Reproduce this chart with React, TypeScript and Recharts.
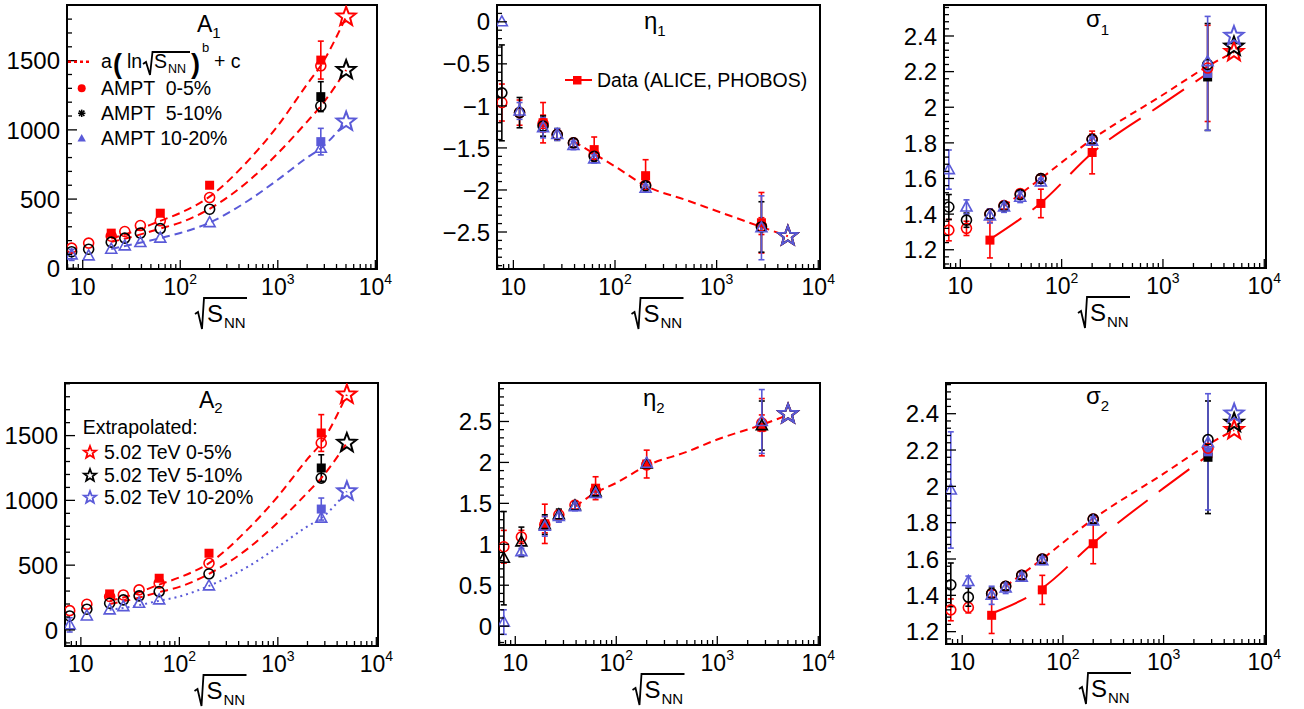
import React from "react";
import { ComposedChart, Scatter, Line, XAxis, YAxis, ErrorBar, ReferenceArea } from "recharts";

const FONT = "'Liberation Sans', Arial, Helvetica, sans-serif";
const RED = "#ff0000";
const BLACK = "#000000";
const BLUE = "#5a5ad8";

// collision energies (GeV)
const amptEnergy = [7.7, 11.5, 19.6, 27, 39, 62.4, 200, 2760];
const dataEnergy = [19.6, 62.4, 200, 2760];
const lhcEnergy = [2760];
const starEnergy = [5020];
const xMajor = [10, 100, 1000, 10000];
const xMinor = [7, 8, 9, 20, 30, 40, 50, 60, 70, 80, 90, 200, 300, 400, 500, 600, 700, 800, 900, 2000, 3000, 4000, 5000, 6000, 7000, 8000, 9000];
const xDomain: [number, number] = [6.9, 10400];

// fit curve sample points
const fitXA = [19.6, 30, 62.4, 100, 200, 500, 1000, 2000, 2760, 5020];
const fitXE = [39, 62.4, 100, 200, 500, 1000, 2760, 5020];
const fitXSa = [27, 62.4, 200, 1000, 2760, 5020];
const fitXSd = [19.6, 62.4, 200, 1000, 2760];

// ---- A1
const a1Ampt05 = [146, 182, 232, 266, 309, 343, 511, 1463];
const a1Ampt510 = [120, 138, 189, 218, 254, 287, 427, 1172];
const a1Ampt1020 = [97, 90, 138, 162, 186, 218, 330, 867];
const a1Ampt1020Err = [40, 0, 0, 0, 0, 0, 0, 0];
const a1Data05 = [254, 398, 600, 1504];
const a1Data05Err = [20, 0, 0, 137];
const a1Data510 = [1240];
const a1Data510Err = [108];
const a1Data1020 = [915];
const a1Data1020Err = [96];
const a1Stars = [1817, 1432, 1059];
const a1Fit05 = [215, 255, 343, 400, 518, 780, 1030, 1330, 1465, 1817];
const a1Fit510 = [190, 222, 287, 330, 430, 630, 830, 1060, 1172, 1432];
const a1Fit1020 = [140, 168, 218, 255, 330, 490, 640, 800, 867, 1059];

// ---- A2
const a2Ampt05 = [149, 198, 258, 270, 309, 361, 515, 1443];
const a2Ampt510 = [108, 160, 206, 232, 263, 296, 433, 1172];
const a2Ampt1020 = [39, 108, 155, 180, 206, 232, 340, 863];
const a2Ampt1020Err = [55, 0, 0, 0, 0, 0, 0, 0];
const a2Data05 = [278, 399, 592, 1520];
const a2Data05Err = [20, 0, 0, 142];
const a2Data510 = [1250];
const a2Data510Err = [102];
const a2Data1020 = [933];
const a2Data1020Err = [85];
const a2Stars = [1816, 1443, 1069];
const a2Fit05 = [225, 260, 350, 405, 515, 780, 1030, 1320, 1443, 1816];
const a2Fit510 = [200, 228, 292, 332, 433, 630, 830, 1060, 1172, 1443];
const a2Fit1020 = [155, 175, 225, 258, 340, 490, 640, 800, 863, 1069];

// ---- eta1
const e1Ampt05 = [-0.96, -1.08, -1.21, -1.34, -1.44, -1.58, -1.94, -2.43];
const e1Ampt05Err = [0.22, 0.15, 0.1, 0.06, 0.05, 0.05, 0.04, 0.1];
const e1Ampt510 = [-0.845, -1.08, -1.24, -1.34, -1.44, -1.6, -1.95, -2.44];
const e1Ampt510Err = [0.57, 0.18, 0.12, 0.07, 0.05, 0.05, 0.04, 0.3];
const e1Ampt1020 = [0.0, -1.06, -1.26, -1.34, -1.47, -1.63, -1.98, -2.45];
const e1Ampt1020Err = [0, 0.1, 0.12, 0.07, 0.05, 0.05, 0.04, 0.38];
const e1Data = [-1.2, -1.52, -1.83, -2.39];
const e1DataErr = [0.24, 0.15, 0.19, 0.36];
const e1Stars = [-2.55, -2.55, -2.55];
const e1Fit = [-1.42, -1.57, -1.72, -1.95, -2.12, -2.25, -2.44, -2.55];

// ---- eta2
const e2Ampt05 = [0.97, 1.09, 1.24, 1.36, 1.48, 1.656, 1.97, 2.48];
const e2Ampt05Err = [0.2, 0.08, 0.1, 0.06, 0.05, 0.05, 0.05, 0.1];
const e2Ampt510 = [0.83, 1.03, 1.24, 1.36, 1.47, 1.64, 1.98, 2.45];
const e2Ampt510Err = [0.57, 0.18, 0.12, 0.07, 0.05, 0.05, 0.04, 0.3];
const e2Ampt1020 = [0.05, 0.91, 1.22, 1.34, 1.46, 1.62, 1.99, 2.5];
const e2Ampt1020Err = [0.15, 0.04, 0.12, 0.07, 0.05, 0.05, 0.04, 0.39];
const e2Data = [1.25, 1.685, 1.98, 2.43];
const e2DataErr = [0.24, 0.14, 0.17, 0.35];
const e2Stars = [2.59, 2.59, 2.59];
const e2Fit = [1.46, 1.63, 1.75, 1.96, 2.13, 2.28, 2.46, 2.58];

// ---- sigma1
const s1Ampt05 = [1.31, 1.32, 1.4, 1.448, 1.515, 1.6, 1.82, 2.22];
const s1Ampt05Err = [0.06, 0.04, 0.03, 0.02, 0.02, 0.02, 0.03, 0];
const s1Ampt510 = [1.44, 1.366, 1.4, 1.445, 1.51, 1.6, 1.82, 2.24];
const s1Ampt510Err = [0.07, 0.04, 0.03, 0.02, 0.02, 0.02, 0.02, 0];
const s1Ampt1020 = [1.65, 1.44, 1.39, 1.44, 1.495, 1.58, 1.81, 2.256];
const s1Ampt1020Err = [0.11, 0.04, 0.04, 0.03, 0.03, 0.02, 0.02, 0];
const s1Data05 = [1.254, 1.46, 1.746, 2.19];
const s1Data05Err = [0.1, 0.08, 0.12, 0.27];
const s1Data510 = [2.17];
const s1Data510Err = [0.3];
const s1Data1020 = [2.19];
const s1Data1020Err = [0.32];
const s1Stars = [2.31, 2.34, 2.4];
const s1FitAmpt = [1.445, 1.6, 1.82, 2.07, 2.23, 2.31];
const s1FitData = [1.258, 1.463, 1.743, 2.02, 2.19];

// ---- sigma2
const s2Ampt05 = [1.32, 1.333, 1.408, 1.45, 1.51, 1.6, 1.82, 2.21];
const s2Ampt05Err = [0.06, 0.03, 0.02, 0.02, 0.02, 0.02, 0.02, 0];
const s2Ampt510 = [1.458, 1.39, 1.41, 1.45, 1.51, 1.6, 1.82, 2.257];
const s2Ampt510Err = [0.12, 0.05, 0.03, 0.02, 0.02, 0.02, 0.02, 0];
const s2Ampt1020 = [1.98, 1.476, 1.4, 1.44, 1.5, 1.59, 1.81, 2.24];
const s2Ampt1020Err = [0.32, 0.03, 0.05, 0.03, 0.02, 0.02, 0.02, 0];
const s2Data05 = [1.29, 1.43, 1.684, 2.18];
const s2Data05Err = [0.1, 0.08, 0.11, 0];
const s2Data510 = [2.16];
const s2Data510Err = [0.31];
const s2Data1020 = [2.19];
const s2Data1020Err = [0.32];
const s2Stars = [2.31, 2.35, 2.4];
const s2FitAmpt = [1.45, 1.6, 1.82, 2.07, 2.23, 2.31];
const s2FitData = [1.3, 1.44, 1.688, 1.99, 2.17];

// y tick labels
const aTicks = [0, 500, 1000, 1500];
const e1Ticks = [0, -0.5, -1, -1.5, -2, -2.5];
const e2Ticks = [0, 0.5, 1, 1.5, 2, 2.5];
const sTicks = [1.2, 1.4, 1.6, 1.8, 2, 2.2, 2.4];

type Kind = "circle" | "triangle" | "square" | "star";
type Mark = { xs: number[]; ys: number[]; errs?: number[]; color: string; kind: Kind };
type Fit = { xs: number[]; ys: number[]; color: string; dash: string };
type Box = { x0: number; x1: number; y0: number; y1: number };

const pts = (xs: number[], ys: number[], errs?: number[]) =>
  xs.map((x, i) => ({ x, y: ys[i], err: errs ? errs[i] : 0 }));

function starPoints(cx: number, cy: number, R: number) {
  const r = R * 0.42;
  const out: string[] = [];
  for (let i = 0; i < 10; i++) {
    const a = -Math.PI / 2 + (i * Math.PI) / 5;
    const rr = i % 2 === 0 ? R : r;
    out.push(`${cx + rr * Math.cos(a)},${cy + rr * Math.sin(a)}`);
  }
  return out.join(" ");
}

function markerShape(kind: Kind, color: string) {
  return (p: any) => {
    const { cx, cy } = p;
    if (cx == null || cy == null) return <g />;
    if (kind === "circle")
      return <circle cx={cx} cy={cy} r={5} fill="none" stroke={color} strokeWidth={1.6} />;
    if (kind === "triangle")
      return (
        <polygon
          points={`${cx},${cy - 6} ${cx - 5.5},${cy + 4} ${cx + 5.5},${cy + 4}`}
          fill="none"
          stroke={color}
          strokeWidth={1.6}
        />
      );
    if (kind === "square") return <rect x={cx - 4.5} y={cy - 4.5} width={9} height={9} fill={color} />;
    return <polygon points={starPoints(cx, cy, 10)} fill="none" stroke={color} strokeWidth={2} />;
  };
}

const YW = 70; // y axis width
const TM = 5;
const RM = 40;
const XH = 65;

function XTick(props: any) {
  const { x, y, payload } = props;
  const v = payload.value;
  const major = xMajor.includes(v);
  const exp = Math.round(Math.log10(v));
  return (
    <g>
      <line x1={x} x2={x} y1={y} y2={y - (major ? 9 : 5)} stroke="#000" strokeWidth={1.3} />
      {major && (
        <text x={x} y={y + 26} textAnchor="middle" fontSize={23} fontFamily={FONT} fill="#000">
          10
          {exp > 1 && (
            <tspan fontSize={14} dy={-11}>
              {exp}
            </tspan>
          )}
        </text>
      )}
    </g>
  );
}

const fmtY = (v: number) => (v < 0 ? "\u2212" + Math.abs(v) : String(v));

function YTick(props: any) {
  const { x, y, payload, majors } = props;
  const v = payload.value;
  const major = majors.some((m: number) => Math.abs(m - v) < 1e-9);
  return (
    <g>
      <line x1={x} x2={x + (major ? 10 : 5)} y1={y} y2={y} stroke="#000" strokeWidth={1.3} />
      {major && (
        <text x={x - 7} y={y} dy="0.36em" textAnchor="end" fontSize={24} fontFamily={FONT} fill="#000">
          {fmtY(v)}
        </text>
      )}
    </g>
  );
}

function SqrtTitle(props: any) {
  const vb = props.viewBox || { x: 0, y: 0, width: 0 };
  const cx = vb.x + vb.width / 2;
  const fb = vb.y;
  return (
    <g>
      <path
        d={`M${cx - 27},${fb + 45} L${cx - 24},${fb + 43} L${cx - 20},${fb + 60} L${cx - 18},${fb + 29} L${cx + 25},${fb + 29}`}
        fill="none"
        stroke="#000"
        strokeWidth={1.8}
      />
      <text x={cx - 15} y={fb + 53} fontSize={24} fontFamily={FONT} fill="#000">
        S
      </text>
      <text x={cx + 2} y={fb + 59} fontSize={15} fontFamily={FONT} fill="#000">
        NN
      </text>
    </g>
  );
}

function minorTicks(domain: [number, number], step: number, majors: number[]) {
  const out: number[] = [];
  const start = Math.ceil(domain[0] / step - 1e-9);
  for (let i = start; i * step <= domain[1] + 1e-9; i++) {
    const v = Math.round(i * step * 1e6) / 1e6;
    if (!majors.some((m) => Math.abs(m - v) < 1e-9)) out.push(v);
  }
  return out;
}

function Panel({
  box,
  yDomain,
  yMajor,
  yStep,
  marks,
  fits,
}: {
  box: Box;
  yDomain: [number, number];
  yMajor: number[];
  yStep: number;
  marks: Mark[];
  fits: Fit[];
}) {
  const W = box.x1 - box.x0 + YW + RM;
  const H = box.y1 - box.y0 + TM + XH;
  const yTicks = [...yMajor, ...minorTicks(yDomain, yStep, yMajor)].sort((a, b) => a - b);
  const xTicks = [...xMinor, ...xMajor].sort((a, b) => a - b);

  const renderMark = (m: Mark, i: number) => {
    const all = pts(m.xs, m.ys, m.errs);
    const withErr = all.filter((p) => p.err > 0);
    return [
      withErr.length > 0 && (
        <Scatter key={`e${i}`} data={withErr} shape={() => <g />} isAnimationActive={false}>
          <ErrorBar dataKey="err" direction="y" width={3} stroke={m.color} strokeWidth={1.6} />
        </Scatter>
      ),
      <Scatter key={`m${i}`} data={all} shape={markerShape(m.kind, m.color)} isAnimationActive={false} />,
    ];
  };

  return (
    <div style={{ position: "absolute", left: box.x0 - YW, top: box.y0 - TM }}>
      <ComposedChart width={W} height={H} margin={{ top: TM, right: RM, left: 0, bottom: 0 }}>
        <XAxis
          dataKey="x"
          type="number"
          scale="log"
          domain={xDomain}
          allowDataOverflow
          ticks={xTicks}
          interval={0}
          tickLine={false}
          axisLine={false}
          tickSize={0}
          tickMargin={0}
          height={XH}
          tick={(p: any) => <XTick {...p} />}
          label={<SqrtTitle />}
        />
        <YAxis
          dataKey="y"
          type="number"
          domain={yDomain}
          allowDataOverflow
          ticks={yTicks}
          interval={0}
          tickLine={false}
          axisLine={false}
          tickSize={0}
          tickMargin={0}
          width={YW}
          tick={(p: any) => <YTick {...p} majors={yMajor} />}
        />
        {marks.filter((m) => m.kind === "square").map((m, i) => renderMark(m, i))}
        {fits.map((f, i) => (
          <Line
            key={`f${i}`}
            data={pts(f.xs, f.ys)}
            dataKey="y"
            type="monotone"
            stroke={f.color}
            strokeWidth={2}
            strokeDasharray={f.dash}
            dot={false}
            activeDot={false}
            isAnimationActive={false}
          />
        ))}
        {marks.filter((m) => m.kind !== "square").map((m, i) => renderMark(m, i + 100))}
        <ReferenceArea
          x1={xDomain[0]}
          x2={xDomain[1]}
          y1={yDomain[0]}
          y2={yDomain[1]}
          fill="none"
          fillOpacity={0}
          stroke="#000"
          strokeWidth={2}
        />
      </ComposedChart>
    </div>
  );
}

const boxes: Record<string, Box> = {
  a1: { x0: 67, x1: 377, y0: 5, y1: 269 },
  e1: { x0: 497, x1: 820, y0: 5, y1: 269 },
  s1: { x0: 944, x1: 1266, y0: 5, y1: 268 },
  a2: { x0: 65, x1: 378, y0: 383, y1: 646 },
  e2: { x0: 499, x1: 820, y0: 383, y1: 645 },
  s2: { x0: 946, x1: 1266, y0: 383, y1: 644 },
};

const DASH = "8 5";

function Overlay() {
  const t = { fontFamily: FONT, fill: "#000" };
  return (
    <svg width={1304} height={709} style={{ position: "absolute", left: 0, top: 0, pointerEvents: "none" }}>
      {/* panel titles */}
      <text x={197} y={32} fontSize={23} {...t}>
        A<tspan fontSize={15} dy={6}>1</tspan>
      </text>
      <text x={644} y={29} fontSize={24} {...t}>
        η<tspan fontSize={15} dy={7}>1</tspan>
      </text>
      <text x={1086} y={27} fontSize={24} {...t}>
        σ<tspan fontSize={15} dy={8}>1</tspan>
      </text>
      <text x={199} y={408} fontSize={23} {...t}>
        A<tspan fontSize={15} dy={5}>2</tspan>
      </text>
      <text x={643} y={406} fontSize={24} {...t}>
        η<tspan fontSize={15} dy={7}>2</tspan>
      </text>
      <text x={1086} y={404} fontSize={24} {...t}>
        σ<tspan fontSize={15} dy={7}>2</tspan>
      </text>

      {/* A1 legend */}
      <line x1={68} x2={92} y1={61.7} y2={61.7} stroke={RED} strokeWidth={2.5} strokeDasharray="3 3" />
      <text x={101} y={68.3} fontSize={19.5} {...t}>a</text>
      <text x={113} y={73} fontSize={27} fontWeight="bold" {...t}>(</text>
      <text x={127} y={68.3} fontSize={19.5} {...t}>ln</text>
      <path d="M143,64 L146,62 L150,75 L152.5,52 L190,52" fill="none" stroke="#000" strokeWidth={1.8} />
      <text x={154} y={68.3} fontSize={19.5} {...t}>S</text>
      <text x={168} y={73} fontSize={12.5} {...t}>NN</text>
      <text x={191} y={73} fontSize={27} fontWeight="bold" {...t}>)</text>
      <text x={202} y={52} fontSize={13} {...t}>b</text>
      <text x={214} y={68.3} fontSize={19.5} {...t}>+ c</text>

      <circle cx={81.7} cy={88.3} r={4} fill={RED} />
      <g stroke={BLACK} strokeWidth={1.6}>
        <line x1={78} x2={85.4} y1={113.3} y2={113.3} />
        <line x1={81.7} x2={81.7} y1={109.6} y2={117} />
        <line x1={79} x2={84.4} y1={110.6} y2={116} />
        <line x1={79} x2={84.4} y1={116} y2={110.6} />
      </g>
      <polygon points="81.7,134 77.5,141.5 85.9,141.5" fill={BLUE} />
      <text x={101} y={88.3} dy="0.36em" fontSize={19.5} style={{ whiteSpace: "pre" }} {...t}>
        {"AMPT  0-5%"}
      </text>
      <text x={101} y={113.3} dy="0.36em" fontSize={19.5} style={{ whiteSpace: "pre" }} {...t}>
        {"AMPT  5-10%"}
      </text>
      <text x={101} y={138.3} dy="0.36em" fontSize={19.5} style={{ whiteSpace: "pre" }} {...t}>
        {"AMPT 10-20%"}
      </text>

      {/* eta1 legend */}
      <line x1={565} x2={592} y1={80} y2={80} stroke={RED} strokeWidth={2} />
      <rect x={573} y={76} width={8.5} height={8.5} fill={RED} />
      <text x={597} y={80} dy="0.36em" fontSize={19.5} {...t}>
        Data (ALICE, PHOBOS)
      </text>

      {/* A2 legend */}
      <text x={82.7} y={426.7} dy="0.36em" fontSize={19.5} {...t}>
        Extrapolated:
      </text>
      <polygon points={starPoints(90, 452.5, 6.5)} fill="none" stroke={RED} strokeWidth={1.8} />
      <polygon points={starPoints(90, 475.5, 6.5)} fill="none" stroke={BLACK} strokeWidth={1.8} />
      <polygon points={starPoints(90, 497.5, 6.5)} fill="none" stroke={BLUE} strokeWidth={1.8} />
      <text x={104} y={451.7} dy="0.36em" fontSize={19.5} {...t}>
        5.02 TeV 0-5%
      </text>
      <text x={104} y={475} dy="0.36em" fontSize={19.5} {...t}>
        5.02 TeV 5-10%
      </text>
      <text x={104} y={496.7} dy="0.36em" fontSize={19.5} {...t}>
        5.02 TeV 10-20%
      </text>
    </svg>
  );
}

function ampt3(y05: number[], e05: number[] | undefined, y510: number[], e510: number[] | undefined, y1020: number[], e1020: number[] | undefined, blackKind: Kind = "circle"): Mark[] {
  return [
    { xs: amptEnergy, ys: y05, errs: e05, color: RED, kind: "circle" },
    { xs: amptEnergy, ys: y510, errs: e510, color: BLACK, kind: blackKind },
    { xs: amptEnergy, ys: y1020, errs: e1020, color: BLUE, kind: "triangle" },
  ];
}

function stars(ys: number[]): Mark[] {
  return [
    { xs: starEnergy, ys: [ys[0]], color: RED, kind: "star" },
    { xs: starEnergy, ys: [ys[1]], color: BLACK, kind: "star" },
    { xs: starEnergy, ys: [ys[2]], color: BLUE, kind: "star" },
  ];
}

export default function App() {
  return (
    <div style={{ position: "absolute", left: 0, top: 0, width: 1304, height: 709, background: "#fff", overflow: "hidden" }}>
      <Panel
        box={boxes.a1}
        yDomain={[-5, 1902]}
        yMajor={aTicks}
        yStep={100}
        marks={[
          { xs: dataEnergy, ys: a1Data05, errs: a1Data05Err, color: RED, kind: "square" },
          { xs: lhcEnergy, ys: a1Data510, errs: a1Data510Err, color: BLACK, kind: "square" },
          { xs: lhcEnergy, ys: a1Data1020, errs: a1Data1020Err, color: BLUE, kind: "square" },
          ...ampt3(a1Ampt05, undefined, a1Ampt510, undefined, a1Ampt1020, a1Ampt1020Err),
          ...stars(a1Stars),
        ]}
        fits={[
          { xs: fitXA, ys: a1Fit05, color: RED, dash: DASH },
          { xs: fitXA, ys: a1Fit510, color: RED, dash: DASH },
          { xs: fitXA, ys: a1Fit1020, color: BLUE, dash: DASH },
        ]}
      />
      <Panel
        box={boxes.e1}
        yDomain={[-2.94, 0.2]}
        yMajor={e1Ticks}
        yStep={0.1}
        marks={[
          { xs: dataEnergy, ys: e1Data, errs: e1DataErr, color: RED, kind: "square" },
          ...ampt3(e1Ampt05, e1Ampt05Err, e1Ampt510, e1Ampt510Err, e1Ampt1020, e1Ampt1020Err),
          ...stars(e1Stars),
        ]}
        fits={[{ xs: fitXE, ys: e1Fit, color: RED, dash: DASH }]}
      />
      <Panel
        box={boxes.s1}
        yDomain={[1.0975, 2.574]}
        yMajor={sTicks}
        yStep={0.04}
        marks={[
          { xs: dataEnergy, ys: s1Data05, errs: s1Data05Err, color: RED, kind: "square" },
          { xs: lhcEnergy, ys: s1Data510, errs: s1Data510Err, color: BLACK, kind: "square" },
          { xs: lhcEnergy, ys: s1Data1020, errs: s1Data1020Err, color: BLUE, kind: "square" },
          ...ampt3(s1Ampt05, s1Ampt05Err, s1Ampt510, s1Ampt510Err, s1Ampt1020, s1Ampt1020Err),
          ...stars(s1Stars),
        ]}
        fits={[
          { xs: fitXSa, ys: s1FitAmpt, color: RED, dash: "7 5" },
          { xs: fitXSd, ys: s1FitData, color: RED, dash: "38 14" },
        ]}
      />
      <Panel
        box={boxes.a2}
        yDomain={[-124, 1906]}
        yMajor={aTicks}
        yStep={100}
        marks={[
          { xs: dataEnergy, ys: a2Data05, errs: a2Data05Err, color: RED, kind: "square" },
          { xs: lhcEnergy, ys: a2Data510, errs: a2Data510Err, color: BLACK, kind: "square" },
          { xs: lhcEnergy, ys: a2Data1020, errs: a2Data1020Err, color: BLUE, kind: "square" },
          ...ampt3(a2Ampt05, undefined, a2Ampt510, undefined, a2Ampt1020, a2Ampt1020Err),
          ...stars(a2Stars),
        ]}
        fits={[
          { xs: fitXA, ys: a2Fit05, color: RED, dash: DASH },
          { xs: fitXA, ys: a2Fit510, color: RED, dash: DASH },
          { xs: fitXA, ys: a2Fit1020, color: BLUE, dash: "2 4" },
        ]}
      />
      <Panel
        box={boxes.e2}
        yDomain={[-0.23, 2.97]}
        yMajor={e2Ticks}
        yStep={0.1}
        marks={[
          { xs: dataEnergy, ys: e2Data, errs: e2DataErr, color: RED, kind: "square" },
          ...ampt3(e2Ampt05, e2Ampt05Err, e2Ampt510, e2Ampt510Err, e2Ampt1020, e2Ampt1020Err, "triangle"),
          ...stars(e2Stars),
        ]}
        fits={[{ xs: fitXE, ys: e2Fit, color: RED, dash: DASH }]}
      />
      <Panel
        box={boxes.s2}
        yDomain={[1.132, 2.569]}
        yMajor={sTicks}
        yStep={0.04}
        marks={[
          { xs: dataEnergy, ys: s2Data05, errs: s2Data05Err, color: RED, kind: "square" },
          { xs: lhcEnergy, ys: s2Data510, errs: s2Data510Err, color: BLACK, kind: "square" },
          { xs: lhcEnergy, ys: s2Data1020, errs: s2Data1020Err, color: BLUE, kind: "square" },
          ...ampt3(s2Ampt05, s2Ampt05Err, s2Ampt510, s2Ampt510Err, s2Ampt1020, s2Ampt1020Err),
          ...stars(s2Stars),
        ]}
        fits={[
          { xs: fitXSa, ys: s2FitAmpt, color: RED, dash: "7 5" },
          { xs: fitXSd, ys: s2FitData, color: RED, dash: "38 14" },
        ]}
      />
      <Overlay />
    </div>
  );
}
